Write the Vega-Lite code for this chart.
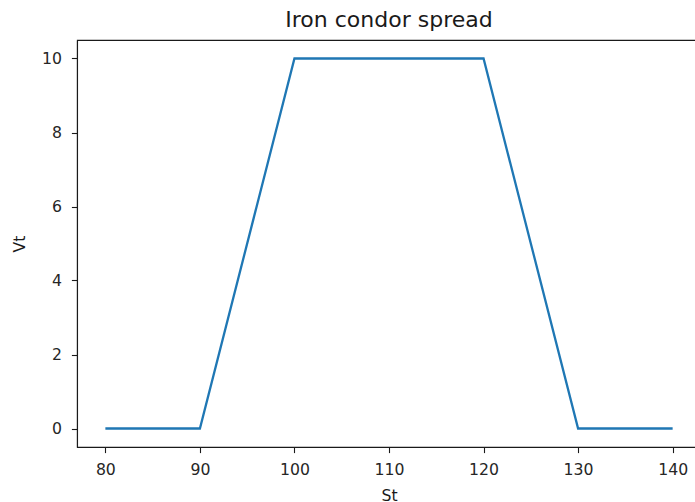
{
  "$schema": "https://vega.github.io/schema/vega-lite/v6.json",
  "width": 624,
  "height": 407,
  "autosize": {"type": "none"},
  "padding": {"left": 77, "top": 40, "right": 0, "bottom": 55},
  "background": "white",
  "title": {"text": "Iron condor spread", "font": "DejaVu Sans", "fontSize": 22, "fontWeight": "normal", "color": "#1a1a1a", "offset": 8, "anchor": "middle"},
  "config": {
    "view": {"stroke": "#1a1a1a", "strokeWidth": 1.1},
    "axis": {
      "labelFont": "DejaVu Sans", "labelFontSize": 15.7, "labelColor": "#262626",
      "titleFont": "DejaVu Sans", "titleFontSize": 15.7, "titleFontWeight": "normal", "titleColor": "#1a1a1a",
      "domain": true, "domainColor": "#1a1a1a", "domainWidth": 1.1,
      "tickColor": "#1a1a1a", "tickWidth": 1.1, "tickSize": 5.6, "grid": false, "labelPadding": 10
    }
  },
  "data": {"values": [
    {"St": 80, "Vt": 0},
    {"St": 90, "Vt": 0},
    {"St": 100, "Vt": 10},
    {"St": 120, "Vt": 10},
    {"St": 130, "Vt": 0},
    {"St": 140, "Vt": 0}
  ]},
  "mark": {"type": "line", "color": "#1f77b4", "strokeWidth": 2.3, "clip": false},
  "encoding": {
    "x": {"field": "St", "type": "quantitative", "scale": {"domain": [77, 143], "nice": false, "zero": false},
      "axis": {"values": [80, 90, 100, 110, 120, 130, 140], "title": "St", "titlePadding": 11}},
    "y": {"field": "Vt", "type": "quantitative", "scale": {"domain": [-0.5, 10.5], "nice": false, "zero": false},
      "axis": {"values": [0, 2, 4, 6, 8, 10], "title": "Vt", "titlePadding": 14}}
  }
}
